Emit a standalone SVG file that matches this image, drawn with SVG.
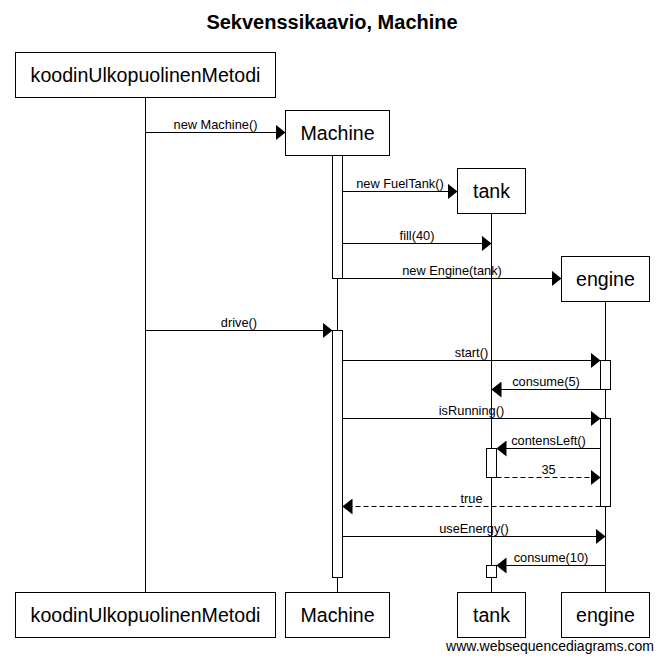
<svg xmlns="http://www.w3.org/2000/svg" width="664" height="661" viewBox="0 0 664 661">
<style>
  .box { fill: #ffffff; stroke: #000000; stroke-width: 1; }
  .life { stroke: #000000; stroke-width: 1; fill: none; }
  .act { fill: #ffffff; stroke: #000000; stroke-width: 1; }
  .msg { stroke: #000000; stroke-width: 1; fill: none; marker-end: url(#arrow); }
  .ret { stroke: #000000; stroke-width: 1; fill: none; stroke-dasharray: 5,3; marker-end: url(#arrow); }
  .pname { font-family: "Liberation Sans", Arial, sans-serif; font-size: 19.6px; fill: #000000; text-anchor: middle; }
  .lbl { font-family: "Liberation Sans", Arial, sans-serif; font-size: 12.8px; fill: #000000; text-anchor: middle; }
  .title { font-family: "Liberation Sans", Arial, sans-serif; font-size: 20px; font-weight: bold; fill: #000000; text-anchor: middle; }
  .wm { font-family: "Liberation Sans", Arial, sans-serif; font-size: 14px; fill: #000000; text-anchor: middle; }
</style>
<defs>
  <marker id="arrow" markerUnits="userSpaceOnUse" markerWidth="10" markerHeight="16" viewBox="0 0 10 16" refX="10" refY="8" orient="auto">
    <path d="M0,0 L10,8 L0,16 z" fill="#000000" stroke="none"/>
  </marker>
</defs>
<rect x="0" y="0" width="664" height="661" fill="#ffffff"/>
<text class="title" x="332" y="29">Sekvenssikaavio, Machine</text>

<g id="lifelines">
  <line class="life" x1="145.5" y1="97.5" x2="145.5" y2="592.5"/>
  <line class="life" x1="337.5" y1="155.5" x2="337.5" y2="592.5"/>
  <line class="life" x1="491.5" y1="213.5" x2="491.5" y2="592.5"/>
  <line class="life" x1="605.5" y1="301.5" x2="605.5" y2="592.5"/>
</g>

<g id="koodinUlkopuolinenMetodi">
  <rect class="box" x="15.5" y="52.5" width="260" height="45"/>
  <text class="pname" x="145.5" y="82">koodinUlkopuolinenMetodi</text>
  <rect class="box" x="15.5" y="592.5" width="260" height="45"/>
  <text class="pname" x="145.5" y="622">koodinUlkopuolinenMetodi</text>
</g>

<g id="Machine">
  <rect class="box" x="285.5" y="110.5" width="104" height="45"/>
  <text class="pname" x="337.5" y="140">Machine</text>
  <rect class="act" x="332.5" y="155.5" width="10" height="123"/>
  <rect class="act" x="332.5" y="330.5" width="10" height="247"/>
  <rect class="box" x="285.5" y="592.5" width="104" height="45"/>
  <text class="pname" x="337.5" y="622">Machine</text>
</g>

<g id="tank">
  <rect class="box" x="457.5" y="168.5" width="68" height="45"/>
  <text class="pname" x="491.5" y="198">tank</text>
  <rect class="act" x="486.5" y="448.5" width="10" height="29"/>
  <rect class="act" x="486.5" y="565.5" width="10" height="12"/>
  <rect class="box" x="457.5" y="592.5" width="68" height="45"/>
  <text class="pname" x="491.5" y="622">tank</text>
</g>

<g id="engine">
  <rect class="box" x="561.5" y="256.5" width="88" height="45"/>
  <text class="pname" x="605.5" y="286">engine</text>
  <rect class="act" x="600.5" y="360.5" width="10" height="29"/>
  <rect class="act" x="600.5" y="418.5" width="10" height="88"/>
  <rect class="box" x="561.5" y="592.5" width="88" height="45"/>
  <text class="pname" x="605.5" y="622">engine</text>
</g>

<g id="connectors">
  <line class="msg" x1="145.5" y1="132.5" x2="285.5" y2="132.5"/>
  <text class="lbl" x="215.5" y="128.5">new Machine()</text>

  <line class="msg" x1="342.5" y1="191.5" x2="457.5" y2="191.5"/>
  <text class="lbl" x="400" y="187.5">new FuelTank()</text>

  <line class="msg" x1="342.5" y1="243.5" x2="491.5" y2="243.5"/>
  <text class="lbl" x="417" y="239.5">fill(40)</text>

  <line class="msg" x1="342.5" y1="278.5" x2="561.5" y2="278.5"/>
  <text class="lbl" x="452" y="274.5">new Engine(tank)</text>

  <line class="msg" x1="145.5" y1="330.5" x2="332.5" y2="330.5"/>
  <text class="lbl" x="239" y="326.5">drive()</text>

  <line class="msg" x1="342.5" y1="360.5" x2="600.5" y2="360.5"/>
  <text class="lbl" x="471.5" y="356.5">start()</text>

  <line class="msg" x1="600.5" y1="389.5" x2="491.5" y2="389.5"/>
  <text class="lbl" x="546" y="385.5">consume(5)</text>

  <line class="msg" x1="342.5" y1="418.5" x2="600.5" y2="418.5"/>
  <text class="lbl" x="471.5" y="414.5">isRunning()</text>

  <line class="msg" x1="600.5" y1="448.5" x2="496.5" y2="448.5"/>
  <text class="lbl" x="548.5" y="444.5">contensLeft()</text>

  <line class="ret" x1="496.5" y1="477.5" x2="600.5" y2="477.5"/>
  <text class="lbl" x="548.5" y="473.5">35</text>

  <line class="ret" x1="600.5" y1="506.5" x2="342.5" y2="506.5"/>
  <text class="lbl" x="471.5" y="502.5">true</text>

  <line class="msg" x1="342.5" y1="536.5" x2="605.5" y2="536.5"/>
  <text class="lbl" x="474" y="532.5">useEnergy()</text>

  <line class="msg" x1="605.5" y1="565.5" x2="496.5" y2="565.5"/>
  <text class="lbl" x="551" y="561.5">consume(10)</text>
</g>

<text class="wm" x="550" y="651">www.websequencediagrams.com</text>
</svg>
